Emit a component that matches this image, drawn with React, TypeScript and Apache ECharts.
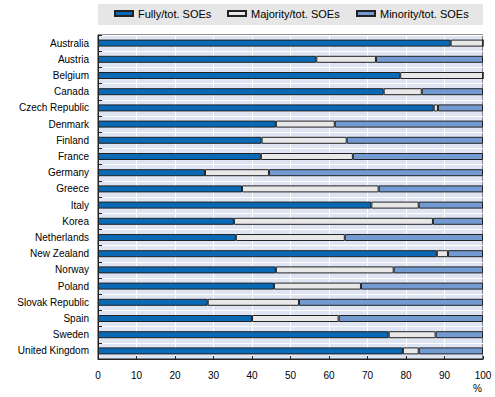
import React, { useEffect, useRef } from "react";
import * as echarts from "echarts";

const countries = [
  "Australia", "Austria", "Belgium", "Canada", "Czech Republic", "Denmark", "Finland",
  "France", "Germany", "Greece", "Italy", "Korea", "Netherlands", "New Zealand",
  "Norway", "Poland", "Slovak Republic", "Spain", "Sweden", "United Kingdom",
];
const fully = [91.6, 56.7, 78.5, 74.2, 87.2, 46.2, 42.5, 42.3, 27.8, 37.4, 71.0, 35.3, 35.8, 88.0, 46.2, 45.7, 28.5, 40.0, 75.5, 79.2];
const majority = [8.4, 15.5, 21.5, 9.9, 1.1, 15.3, 22.1, 23.9, 16.6, 35.5, 12.3, 51.7, 28.3, 2.9, 30.6, 22.6, 23.7, 22.5, 12.2, 4.1];
const minority = [0, 27.8, 0, 15.9, 11.7, 38.5, 35.4, 33.8, 55.6, 27.1, 16.7, 13.0, 35.9, 9.1, 23.2, 31.7, 47.8, 37.5, 12.3, 16.7];
const seriesNames = ["Fully/tot. SOEs", "Majority/tot. SOEs", "Minority/tot. SOEs"];
const xTicks = [0, 10, 20, 30, 40, 50, 60, 70, 80, 90, 100];

const colors = ["#0a69b5", "#e8e8e8", "#739bd2"];
const FONT = "'Liberation Sans', Arial, sans-serif";

export default function App() {
  const ref = useRef<HTMLDivElement>(null);
  useEffect(() => {
    if (!ref.current) return;
    const chart = echarts.init(ref.current, undefined, { renderer: "svg" });
    const data = [fully, majority, minority];
    const legendLefts = [109, 222, 351];
    chart.setOption({
      animation: false,
      textStyle: { fontFamily: FONT },
      graphic: [
        { type: "rect", shape: { x: 98, y: 4, width: 385, height: 21 }, style: { fill: "#e6e6e6" }, z: -1 },
        {
          type: "text",
          right: 13,
          top: 383,
          style: { text: "%", fill: "#000", font: `10px ${FONT}` },
        },
      ],
      legend: seriesNames.map((n, i) => ({
        data: [{ name: n, icon: "rect" }],
        left: legendLefts[i],
        top: 3,
        itemWidth: 18,
        itemHeight: 5,
        itemGap: 0,
        textStyle: { fontFamily: FONT, fontSize: 11, color: "#000" },
        selectedMode: false,
      })),
      grid: {
        left: 98,
        right: 12,
        top: 35,
        bottom: 38,
        show: true,
        backgroundColor: "#dfe4f2",
        borderColor: "#222",
        borderWidth: 1,
      },
      xAxis: {
        type: "value",
        min: 0,
        max: 100,
        interval: 10,
        axisLine: { show: true, lineStyle: { color: "#222" } },
        axisTick: { show: true, inside: true, length: 3, lineStyle: { color: "#222" } },
        splitLine: { show: true, lineStyle: { color: "#ffffff", width: 1 } },
        axisLabel: {
          color: "#000",
          fontSize: 10,
          fontFamily: FONT,
          margin: 11,
          formatter: (v: number) => (xTicks.includes(v) ? String(v) : ""),
        },
      },
      yAxis: {
        type: "category",
        data: countries,
        inverse: true,
        axisLine: { show: true, lineStyle: { color: "#222" } },
        axisTick: { show: true, inside: true, length: 4, lineStyle: { color: "#222" } },
        splitLine: { show: true, lineStyle: { color: "#ffffff", width: 1 } },
        axisLabel: { color: "#000", fontSize: 10, fontFamily: FONT, margin: 9 },
      },
      series: seriesNames.map((n, i) => ({
        name: n,
        type: "bar",
        stack: "total",
        data: data[i],
        barWidth: 7,
        itemStyle: { color: colors[i], borderColor: "#222", borderWidth: 1 },
      })),
    });
    return () => chart.dispose();
  }, []);
  return <div ref={ref} style={{ width: 495, height: 397, position: "absolute", left: 0, top: 0 }} />;
}
